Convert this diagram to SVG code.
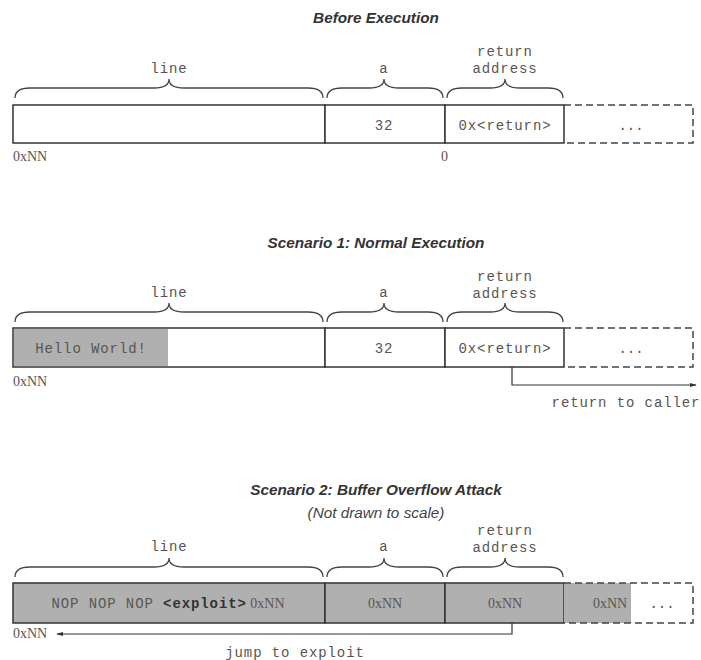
<svg xmlns="http://www.w3.org/2000/svg" width="701" height="660" viewBox="0 0 701 660">
<style>
.title{font-family:"Liberation Sans",Arial,sans-serif;font-weight:bold;font-style:italic;font-size:15.3px;fill:#333;text-anchor:middle}
.sub{font-family:"Liberation Sans",Arial,sans-serif;font-style:italic;font-size:15.3px;fill:#444;text-anchor:middle}
.lbl{font-family:"Liberation Mono","Courier New",monospace;font-size:14px;letter-spacing:0.9px;fill:#5a5550;text-anchor:middle}
.dots{letter-spacing:0}
.bold{font-weight:bold;fill:#333}
.addr{font-family:"Liberation Serif","Times New Roman",serif;font-size:14px;fill:#5a5550}
.cell{fill:#fff;stroke:#333;stroke-width:1.5}
.gcell{fill:#b0b0b0;stroke:#333;stroke-width:1.5}
.dash{fill:none;stroke:#444;stroke-width:1.5;stroke-dasharray:7,4}
.brace{fill:none;stroke:#444;stroke-width:1.3}
.conn{fill:none;stroke:#333;stroke-width:1.2}
</style>
<defs>
<marker id="ah" viewBox="0 0 10 10" refX="9" refY="5" markerWidth="7" markerHeight="7" orient="auto-start-reverse" markerUnits="userSpaceOnUse">
<path d="M0,2 L10,5 L0,8 z" fill="#333"/>
</marker>
</defs>

<!-- Section 1: Before Execution -->
<g id="before">
<text class="title" x="376" y="23">Before Execution</text>
<path class="brace" d="M15,98 Q15,88 30,88 L154,88 Q169,88 169,79 Q169,88 184,88 L308,88 Q323,88 323,98"/>
<path class="brace" d="M327,98 Q327,88 342,88 L369,88 Q384,88 384,79 Q384,88 399,88 L428,88 Q443,88 443,98"/>
<path class="brace" d="M447,98 Q447,88 462,88 L490,88 Q505,88 505,79 Q505,88 520,88 L548,88 Q563,88 563,98"/>
<text class="lbl" x="169" y="73">line</text>
<text class="lbl" x="384" y="73">a</text>
<text class="lbl" x="505" y="56">return</text>
<text class="lbl" x="505" y="73">address</text>
<g id="b-line"><rect class="cell" x="13" y="105" width="312" height="38"/></g>
<g id="b-a"><rect class="cell" x="325" y="105" width="120" height="38"/><text class="lbl" x="384" y="130">32</text></g>
<g id="b-ret"><rect class="cell" x="445" y="105" width="119" height="38"/><text class="lbl" x="505" y="130">0x&lt;return&gt;</text></g>
<g id="b-more"><path class="dash" d="M564,105 H693 V143 H564"/><text class="lbl dots" x="631" y="130">...</text></g>
<text class="addr" x="13" y="161">0xNN</text>
<text class="addr" x="441" y="161">0</text>
</g>

<!-- Section 2: Scenario 1 -->
<g id="scenario1">
<text class="title" x="376" y="248">Scenario 1: Normal Execution</text>
<path class="brace" d="M15,322 Q15,312 30,312 L154,312 Q169,312 169,303 Q169,312 184,312 L308,312 Q323,312 323,322"/>
<path class="brace" d="M327,322 Q327,312 342,312 L369,312 Q384,312 384,303 Q384,312 399,312 L428,312 Q443,312 443,322"/>
<path class="brace" d="M447,322 Q447,312 462,312 L490,312 Q505,312 505,303 Q505,312 520,312 L548,312 Q563,312 563,322"/>
<text class="lbl" x="169" y="297">line</text>
<text class="lbl" x="384" y="297">a</text>
<text class="lbl" x="505" y="281">return</text>
<text class="lbl" x="505" y="298">address</text>
<g id="s1-line"><rect class="cell" x="13" y="328" width="312" height="39"/><rect x="14" y="329" width="154" height="37" fill="#b0b0b0"/><text class="lbl" x="91" y="353">Hello World!</text></g>
<g id="s1-a"><rect class="cell" x="325" y="328" width="120" height="39"/><text class="lbl" x="384" y="353">32</text></g>
<g id="s1-ret"><rect class="cell" x="445" y="328" width="119" height="39"/><text class="lbl" x="505" y="353">0x&lt;return&gt;</text></g>
<g id="s1-more"><path class="dash" d="M564,328 H693 V367 H564"/><text class="lbl dots" x="631" y="353">...</text></g>
<text class="addr" x="13" y="386">0xNN</text>
<text class="lbl" x="626" y="407">return to caller</text>
</g>

<!-- Section 3: Scenario 2 -->
<g id="scenario2">
<text class="title" x="376" y="495">Scenario 2: Buffer Overflow Attack</text>
<text class="sub" x="376" y="518">(Not drawn to scale)</text>
<path class="brace" d="M15,577 Q15,567 30,567 L154,567 Q169,567 169,558 Q169,567 184,567 L308,567 Q323,567 323,577"/>
<path class="brace" d="M327,577 Q327,567 342,567 L369,567 Q384,567 384,558 Q384,567 399,567 L428,567 Q443,567 443,577"/>
<path class="brace" d="M447,577 Q447,567 462,567 L490,567 Q505,567 505,558 Q505,567 520,567 L548,567 Q563,567 563,577"/>
<text class="lbl" x="169" y="551">line</text>
<text class="lbl" x="384" y="551">a</text>
<text class="lbl" x="505" y="535">return</text>
<text class="lbl" x="505" y="552">address</text>
<g id="s2-line"><rect class="gcell" x="13" y="583" width="312" height="40"/><text class="lbl" x="168" y="608"><tspan>NOP NOP NOP </tspan><tspan class="bold">&lt;exploit&gt;</tspan><tspan class="addr" letter-spacing="0"> 0xNN</tspan></text></g>
<g id="s2-a"><rect class="gcell" x="325" y="583" width="120" height="40"/><text class="addr" x="385" y="608" text-anchor="middle">0xNN</text></g>
<g id="s2-ret"><rect class="gcell" x="445" y="583" width="119" height="40"/><text class="addr" x="505" y="608" text-anchor="middle">0xNN</text></g>
<g id="s2-more"><rect x="564" y="583" width="67" height="40" fill="#b0b0b0"/><path class="dash" d="M564,583 H693 V623 H564"/><text class="addr" x="610" y="608" text-anchor="middle">0xNN</text><text class="lbl dots" x="662" y="608">...</text></g>
<text class="addr" x="13" y="638">0xNN</text>
<text class="lbl" x="295" y="657">jump to exploit</text>
</g>

<g id="connectors">
<path class="conn" d="M512,367 V385 H696" marker-end="url(#ah)"/>
<path class="conn" d="M512,623 V634 H57" marker-end="url(#ah)"/>
</g>
</svg>
